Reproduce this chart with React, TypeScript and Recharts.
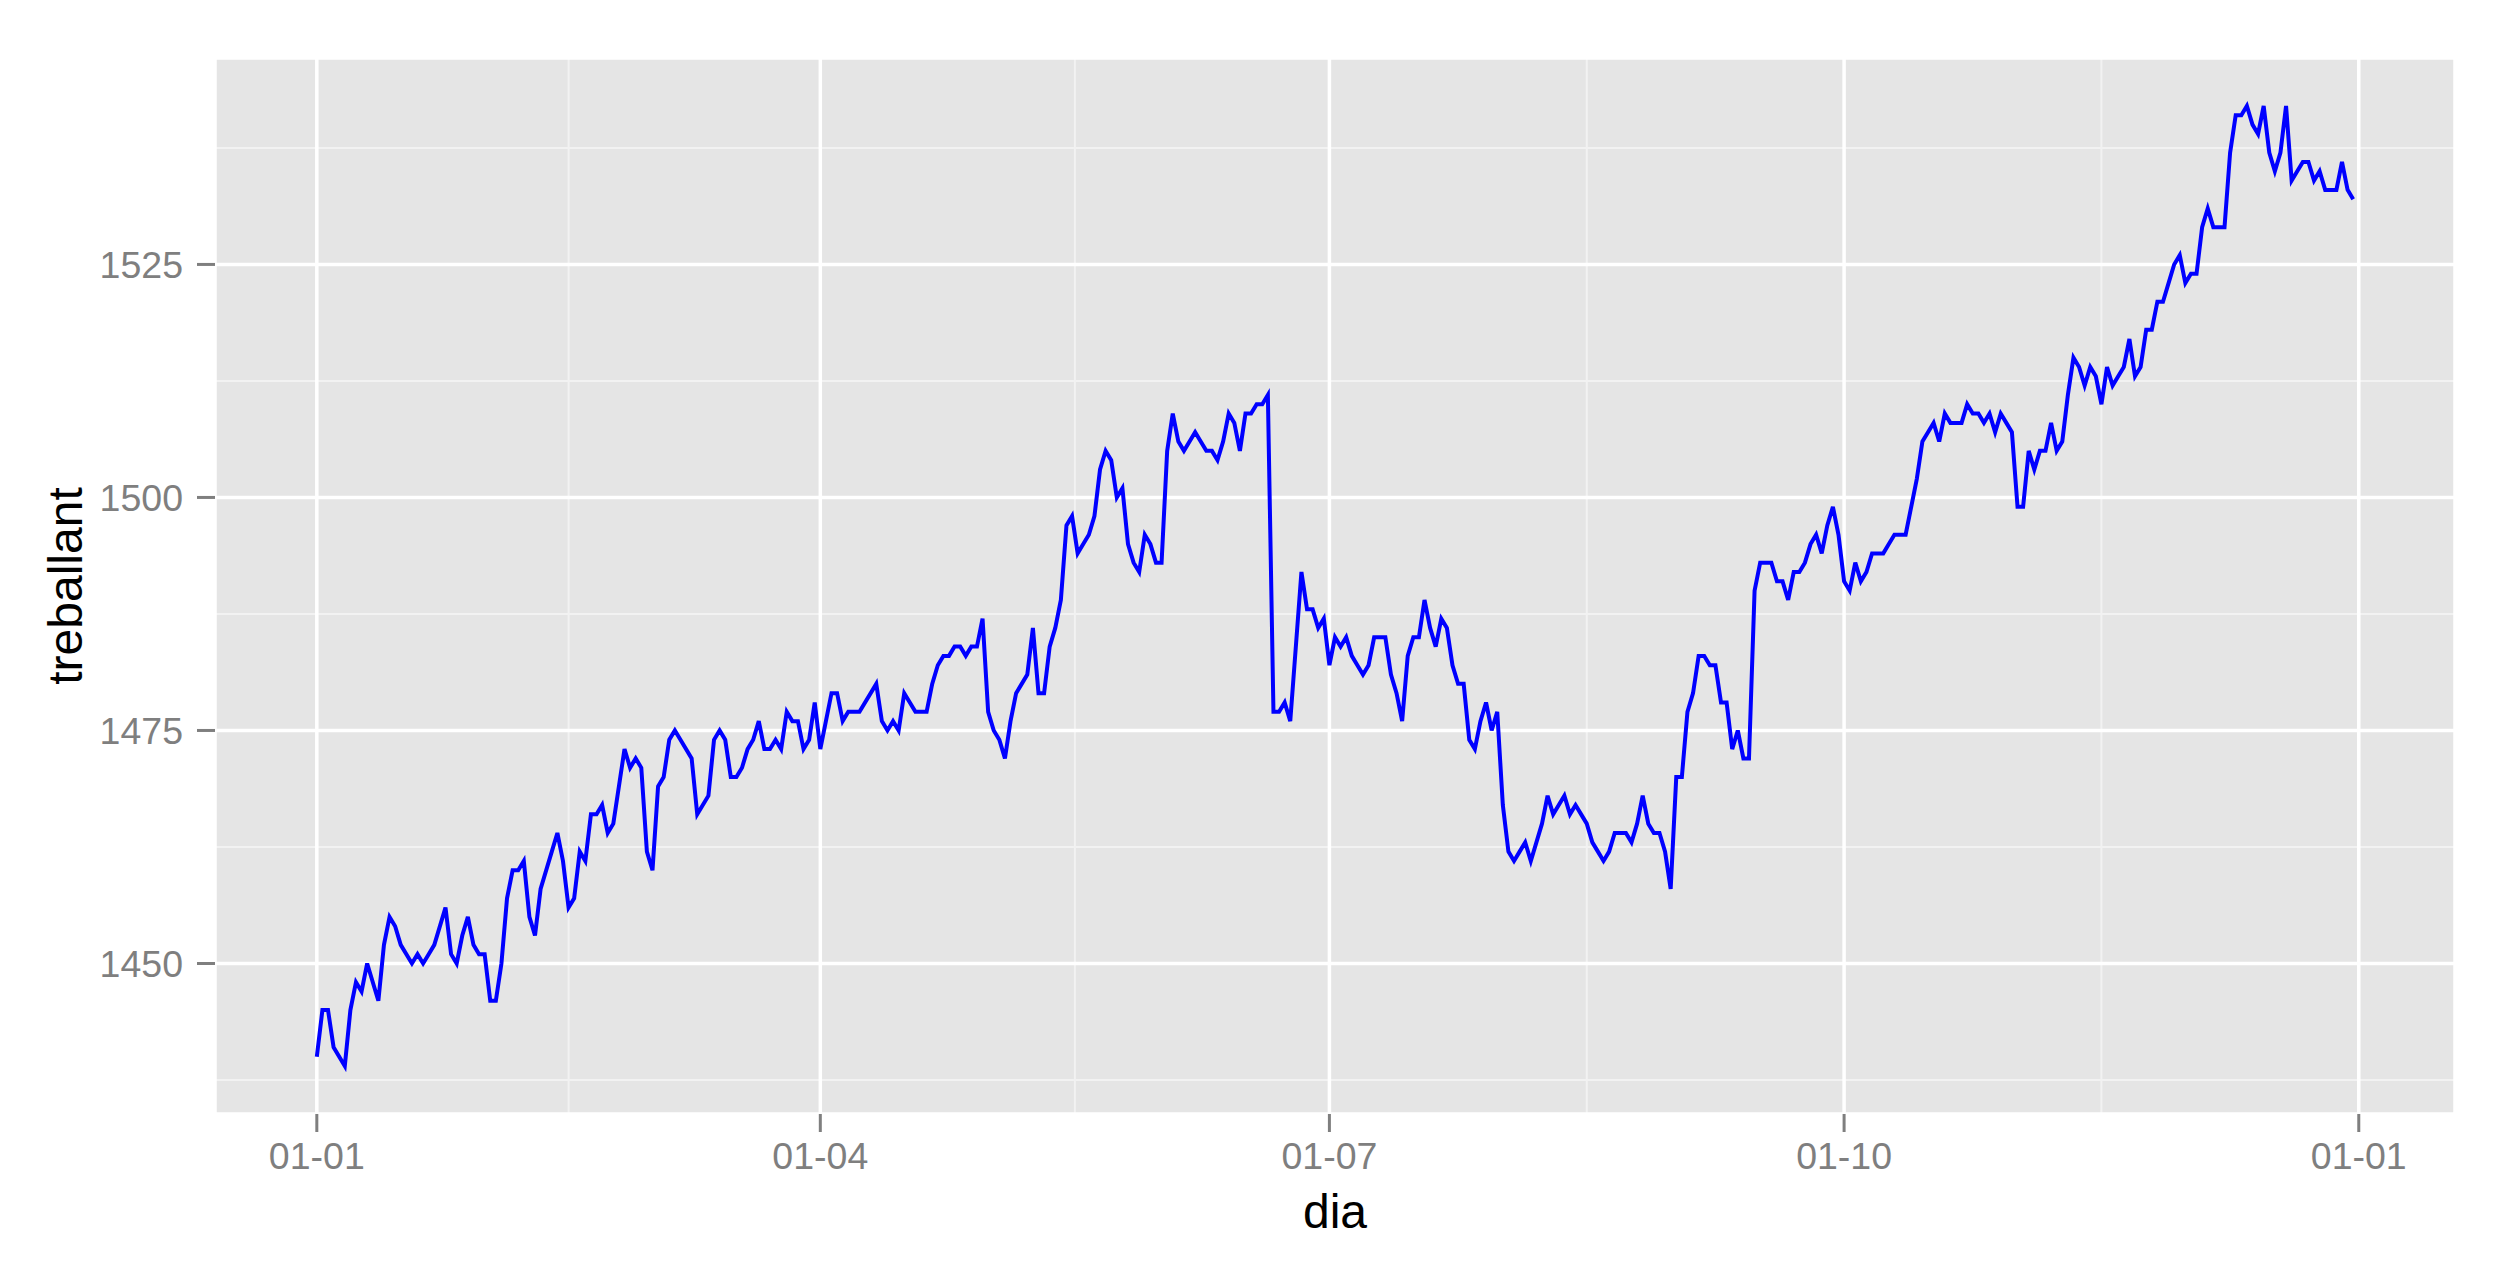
import React from "react";
import { LineChart, Line, XAxis, YAxis, CartesianGrid } from "recharts";

// dia = days since 1 January, only the days where the line turns
const dias = [
  0, 1, 2, 3, 5, 6, 7, 8, 9, 11, 12, 13, 14, 15, 17, 18, 19, 20, 21, 23, 24, 25, 26, 27, 28, 29, 30,
  31, 32, 33, 34, 35, 36, 37, 38, 39, 40, 42, 43, 44, 45, 46, 47, 48, 49, 50, 51, 52, 53, 55, 56, 57,
  58, 59, 60, 61, 62, 63, 64, 65, 67, 68, 70, 71, 72, 73, 74, 75, 76, 77, 78, 79, 80, 81, 82, 83, 84,
  85, 86, 87, 88, 89, 90, 91, 92, 93, 94, 95, 97, 100, 101, 102, 103, 104, 105, 106, 107, 109, 110,
  111, 112, 113, 114, 115, 116, 117, 118, 119, 120, 121, 122, 123, 124, 125, 126, 127, 128, 129, 130,
  131, 132, 133, 134, 135, 136, 137, 138, 139, 140, 141, 142, 143, 144, 145, 146, 147, 148, 149, 150,
  151, 152, 153, 154, 155, 156, 157, 158, 159, 160, 161, 162, 163, 164, 165, 166, 167, 168, 169, 170,
  171, 172, 173, 174, 175, 176, 177, 178, 179, 180, 181, 182, 183, 184, 185, 186, 187, 188, 189, 191,
  192, 193, 194, 195, 196, 197, 198, 199, 200, 201, 202, 203, 204, 205, 206, 207, 208, 209, 210, 211,
  212, 213, 214, 215, 216, 217, 218, 219, 220, 221, 222, 223, 224, 225, 226, 227, 228, 229, 230, 231,
  232, 233, 234, 235, 236, 237, 238, 239, 240, 241, 242, 243, 244, 245, 246, 247, 248, 249, 250, 251,
  252, 253, 254, 255, 256, 257, 258, 260, 261, 262, 263, 264, 265, 266, 267, 268, 269, 270, 271, 272,
  273, 274, 275, 276, 277, 278, 280, 281, 282, 284, 285, 286, 287, 288, 289, 290, 291, 292, 294, 295,
  296, 297, 298, 299, 300, 301, 302, 303, 304, 305, 306, 307, 308, 309, 310, 311, 312, 313, 314, 315,
  316, 317, 318, 319, 320, 321, 322, 323, 324, 325, 326, 327, 328, 329, 330, 331, 332, 333, 334, 335,
  336, 337, 338, 339, 341, 342, 343, 344, 345, 346, 347, 348, 349, 350, 351, 352, 353, 354, 355, 356,
  357, 358, 359, 361, 362, 363, 364,
];

const treballant = [
  1440, 1445, 1445, 1441, 1439, 1445, 1448, 1447, 1450, 1446, 1452, 1455, 1454, 1452, 1450, 1451, 1450,
  1451, 1452, 1456, 1451, 1450, 1453, 1455, 1452, 1451, 1451, 1446, 1446, 1450, 1457, 1460, 1460, 1461,
  1455, 1453, 1458, 1462, 1464, 1461, 1456, 1457, 1462, 1461, 1466, 1466, 1467, 1464, 1465, 1473, 1471,
  1472, 1471, 1462, 1460, 1469, 1470, 1474, 1475, 1474, 1472, 1466, 1468, 1474, 1475, 1474, 1470, 1470,
  1471, 1473, 1474, 1476, 1473, 1473, 1474, 1473, 1477, 1476, 1476, 1473, 1474, 1478, 1473, 1476, 1479,
  1479, 1476, 1477, 1477, 1480, 1476, 1475, 1476, 1475, 1479, 1478, 1477, 1477, 1480, 1482, 1483, 1483,
  1484, 1484, 1483, 1484, 1484, 1487, 1477, 1475, 1474, 1472, 1476, 1479, 1480, 1481, 1486, 1479, 1479,
  1484, 1486, 1489, 1497, 1498, 1494, 1495, 1496, 1498, 1503, 1505, 1504, 1500, 1501, 1495, 1493, 1492,
  1496, 1495, 1493, 1493, 1505, 1509, 1506, 1505, 1506, 1507, 1506, 1505, 1505, 1504, 1506, 1509, 1508,
  1505, 1509, 1509, 1510, 1510, 1511, 1477, 1477, 1478, 1476, 1484, 1492, 1488, 1488, 1486, 1487, 1482,
  1485, 1484, 1485, 1483, 1482, 1481, 1482, 1485, 1485, 1481, 1479, 1476, 1483, 1485, 1485, 1489, 1486,
  1484, 1487, 1486, 1482, 1480, 1480, 1474, 1473, 1476, 1478, 1475, 1477, 1467, 1462, 1461, 1462, 1463,
  1461, 1463, 1465, 1468, 1466, 1467, 1468, 1466, 1467, 1466, 1465, 1463, 1462, 1461, 1462, 1464, 1464,
  1464, 1463, 1465, 1468, 1465, 1464, 1464, 1462, 1458, 1470, 1470, 1477, 1479, 1483, 1483, 1482, 1482,
  1478, 1478, 1473, 1475, 1472, 1472, 1490, 1493, 1493, 1491, 1491, 1489, 1492, 1492, 1493, 1495, 1496,
  1494, 1497, 1499, 1496, 1491, 1490, 1493, 1491, 1492, 1494, 1494, 1495, 1496, 1496, 1499, 1502, 1506,
  1507, 1508, 1506, 1509, 1508, 1508, 1510, 1509, 1509, 1508, 1509, 1507, 1509, 1508, 1507, 1499, 1499,
  1505, 1503, 1505, 1505, 1508, 1505, 1506, 1511, 1515, 1514, 1512, 1514, 1513, 1510, 1514, 1512, 1513,
  1514, 1517, 1513, 1514, 1518, 1518, 1521, 1521, 1523, 1525, 1526, 1523, 1524, 1524, 1529, 1531, 1529,
  1529, 1537, 1541, 1541, 1542, 1540, 1539, 1542, 1537, 1535, 1537, 1542, 1534, 1535, 1536, 1536, 1534,
  1535, 1533, 1533, 1536, 1533, 1532,
];

const xTicks = [0, 90, 181, 273, 365];
const xTickLabels = ["01-01", "01-04", "01-07", "01-10", "01-01"];
const xMinor = [45, 135.5, 227, 319];
const yTicks = [1450, 1475, 1500, 1525];
const yMinor = [1437.5, 1462.5, 1487.5, 1512.5, 1537.5];

const data = dias.map((dia, i) => ({ dia, treballant: treballant[i] }));

const FONT = "'Liberation Sans', Arial, Helvetica, sans-serif";
const GREY = "#7F7F7F";

function YTitle(props: any) {
  const vb = props.viewBox ?? { x: 0, y: 58, width: 215, height: 1056 };
  const x = vb.x + 82;
  const y = vb.y + vb.height / 2;
  return (
    <text
      x={x}
      y={y}
      transform={`rotate(-90 ${x} ${y})`}
      textAnchor="middle"
      fontSize={48}
      fontFamily={FONT}
      fill="#000000"
    >
      treballant
    </text>
  );
}

function XTitle(props: any) {
  const vb = props.viewBox ?? { x: 215, y: 1114, width: 2240, height: 156 };
  return (
    <text
      x={vb.x + vb.width / 2}
      y={vb.y + 114}
      textAnchor="middle"
      fontSize={48}
      fontFamily={FONT}
      fill="#000000"
    >
      dia
    </text>
  );
}

export default function App() {
  return (
    <div style={{ position: "absolute", left: 0, top: 0, width: 2516, height: 1270, background: "#ffffff" }}>
      <LineChart width={2516} height={1270} data={data} margin={{ top: 58, right: 61, bottom: 0, left: 0 }}>
        {/* minor grid + panel background */}
        <CartesianGrid
          fill="#E5E5E5"
          fillOpacity={1}
          stroke="#F2F2F2"
          strokeWidth={2}
          horizontalValues={yMinor}
          verticalValues={xMinor}
        />
        {/* major grid on the axis ticks */}
        <CartesianGrid stroke="#FFFFFF" strokeWidth={3.5} />
        <XAxis
          dataKey="dia"
          type="number"
          domain={[-18.2, 382.2]}
          allowDataOverflow
          ticks={xTicks}
          interval={0}
          tickFormatter={(v: number) => xTickLabels[xTicks.indexOf(v)]}
          height={156}
          axisLine={false}
          tickSize={18}
          tickMargin={10}
          tickLine={{ stroke: GREY, strokeWidth: 3 }}
          tick={{ fill: GREY, fontSize: 37.5, fontFamily: FONT }}
          label={<XTitle />}
        />
        <YAxis
          type="number"
          domain={[1433.85, 1547.15]}
          allowDataOverflow
          ticks={yTicks}
          interval={0}
          width={215}
          axisLine={false}
          tickSize={18}
          tickMargin={14}
          tickLine={{ stroke: GREY, strokeWidth: 3 }}
          tick={{ fill: GREY, fontSize: 37.5, fontFamily: FONT }}
          label={<YTitle />}
        />
        <Line
          type="linear"
          dataKey="treballant"
          stroke="#0000FF"
          strokeWidth={4}
          dot={false}
          activeDot={false}
          isAnimationActive={false}
        />
      </LineChart>
    </div>
  );
}
